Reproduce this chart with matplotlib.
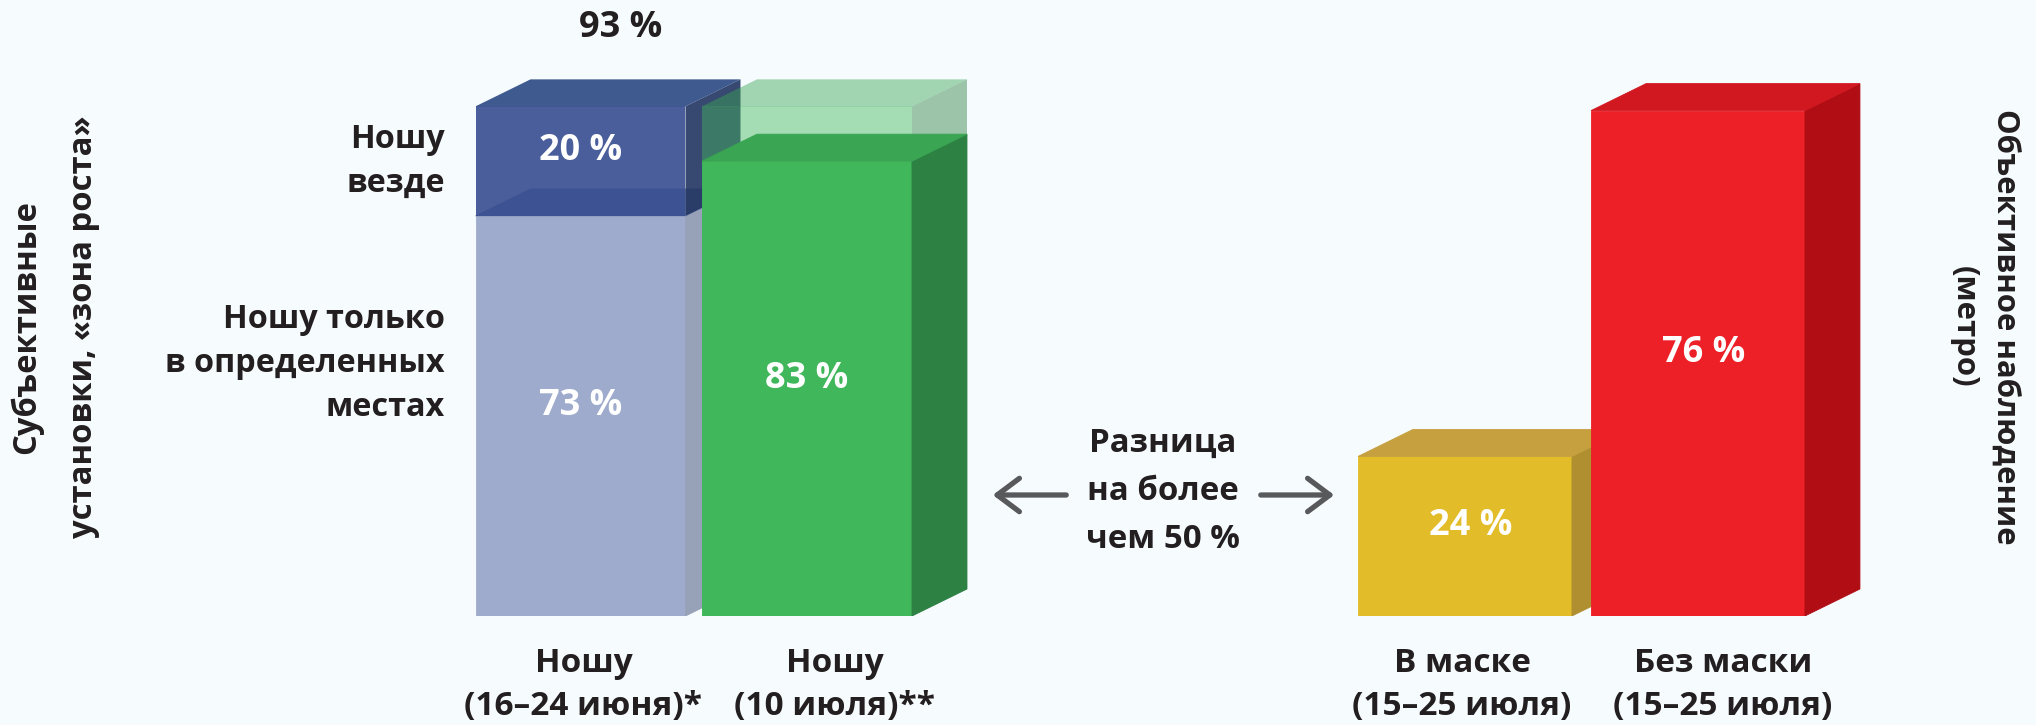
import matplotlib.pyplot as plt
from matplotlib.patches import Polygon, FancyArrowPatch

plt.rcParams['font.family'] = ['Open Sans', 'DejaVu Sans']
plt.rcParams['font.weight'] = 'bold'

# --- data -------------------------------------------------------------
subj_categories = ['Ношу\n(16–24 июня)*', 'Ношу\n(10 июля)**']
june_parts = [73, 20]          # только в определенных местах, везде
june_part_labels = ['Ношу только\nв определенных\nместах', 'Ношу\nвезде']
july_value = 83

obs_categories = ['В маске\n(15–25 июля)', 'Без маски\n(15–25 июля)']
obs_values = [24, 76]

middle_text = 'Разница\nна более\nчем 50 %'
left_title = 'Субъективные\nустановки, «зона роста»'
right_title = 'Объективное наблюдение\n(метро)'

# --- style ------------------------------------------------------------
BG = '#f6fbfe'
DARK = '#231f20'
DX, DY = 55, 27  # depth of the boxes, pixels

W, H = 2036, 725
fig = plt.figure(figsize=(W / 100, H / 100), dpi=100, facecolor=BG)

# axes laid out in pixels: (left, bottom, width, height)
ax_l = fig.add_axes([440 / W, 109 / H, 560 / W, 110 * 5.48 / H])
ax_l.set_xlim((440 - 580.5) / 226.5, (1000 - 580.5) / 226.5)
ax_l.set_ylim(0, 110)
ax_r = fig.add_axes([1330 / W, 109 / H, 570 / W, 90 * 6.65 / H])
ax_r.set_xlim((1330 - 1465) / 233, (1900 - 1465) / 233)
ax_r.set_ylim(0, 90)
for ax in (ax_l, ax_r):
    ax.axis('off')
    ax.patch.set_alpha(0)


def depth(ax):
    inv = ax.transData.inverted()
    x0, y0 = inv.transform((0, 0))
    x1, y1 = inv.transform((DX, DY))
    return x1 - x0, y1 - y0


def box(ax, x, bottom, height, width, front, top, side, alpha=1.0, z=2):
    ddx, ddy = depth(ax)
    left, right = x - width / 2, x + width / 2
    tp = bottom + height
    lw = 0.6 if alpha == 1.0 else 0
    ax.bar(x, height, width, bottom=bottom, color=front, alpha=alpha, zorder=z,
           edgecolor=front, linewidth=lw)
    ax.add_patch(Polygon([(right, bottom), (right + ddx, bottom + ddy),
                          (right + ddx, tp + ddy), (right, tp)],
                         closed=True, fc=side, ec=side, lw=lw, alpha=alpha, zorder=z))
    ax.add_patch(Polygon([(left, tp), (right, tp), (right + ddx, tp + ddy),
                          (left + ddx, tp + ddy)],
                         closed=True, fc=top, ec=top, lw=lw, alpha=alpha, zorder=z))


def value_label(ax, x, y, text, dx=0):
    ax.annotate(text, (x, y), xytext=(dx, 10), textcoords='offset pixels',
                ha='center', va='center', color='white', fontsize=26, zorder=10)


# --- left group: subjective -------------------------------------------
wl = 0.927
june_total = sum(june_parts)
box(ax_l, 0, 0, june_parts[0], wl, '#9eabcc', '#6f80ad', '#97a1b8', z=2)
box(ax_l, 0, june_parts[0], june_parts[1], wl, '#374d90', '#2b4882', '#233662',
    alpha=0.9, z=3)
# ghost of the june total behind the july bar
box(ax_l, 1, 0, june_total, wl, '#41b75b', '#3aa552', '#2c8143', alpha=0.45, z=4)
box(ax_l, 1, 0, july_value, wl, '#41b75b', '#3aa552', '#2c8143', z=5)

value_label(ax_l, 0, june_parts[0] / 2, f'{june_parts[0]} %')
value_label(ax_l, 0, june_parts[0] + june_parts[1] / 2, f'{june_parts[1]} %')
value_label(ax_l, 1, july_value / 2, f'{july_value} %')
ax_l.annotate(f'{june_total} %', (0, june_total), xytext=(40, 78),
              textcoords='offset pixels', ha='center', va='center',
              color=DARK, fontsize=26)

# part labels left of the first bar
part_y = [46, june_parts[0] + june_parts[1] / 2]
for y, txt in zip(part_y, june_part_labels):
    ax_l.annotate(txt, (-wl / 2, y), xytext=(-31, 0), textcoords='offset pixels',
                  ha='right', va='center', multialignment='right',
                  color=DARK, fontsize=23.3, linespacing=1.44)

# --- right group: observed --------------------------------------------
wr = 0.918
box(ax_r, 0, 0, obs_values[0], wr, '#e2bc29', '#c6a03f', '#b08f30', z=2)
box(ax_r, 1, 0, obs_values[1], wr, '#ed1f27', '#d1171f', '#b00d15', z=3)
for i, v in enumerate(obs_values):
    value_label(ax_r, i, v / 2, f'{v} %', dx=6)

# category labels under the bars
cat_dx = [3, 28, -3, 25]
for ax, cats, k0 in ((ax_l, subj_categories, 0), (ax_r, obs_categories, 2)):
    for i, txt in enumerate(cats):
        ax.annotate(txt, (i, 0), xytext=(cat_dx[k0 + i], -69),
                    textcoords='offset pixels', ha='center', va='center',
                    multialignment='center', color=DARK, fontsize=24,
                    linespacing=1.42, annotation_clip=False)

# --- middle comment with arrows ----------------------------------------
fig.text(1163 / W, 1 - 491 / H, middle_text, ha='center', va='center',
         multialignment='center', color=DARK, fontsize=23.8, linespacing=1.6)
for tail, head in ((1069, 990), (1258, 1337)):
    fig.patches.append(FancyArrowPatch(
        (tail / W, 1 - 495 / H), (head / W, 1 - 495 / H),
        transform=fig.transFigure, arrowstyle='->,head_length=0.8,head_width=0.6',
        mutation_scale=20, color='#58595b', lw=3.8, capstyle='round',
        joinstyle='round'))

# --- side titles ---------------------------------------------------------
fig.text(55 / W, 1 - 327 / H, left_title, rotation=90, ha='center', va='center',
         multialignment='center', color=DARK, fontsize=23.6, linespacing=1.98)
fig.text(1984 / W, 1 - 327 / H, right_title, rotation=-90, ha='center',
         va='center', multialignment='center', color=DARK, fontsize=22.4,
         linespacing=1.44)

fig.savefig('out.png', dpi=100, facecolor=BG)
